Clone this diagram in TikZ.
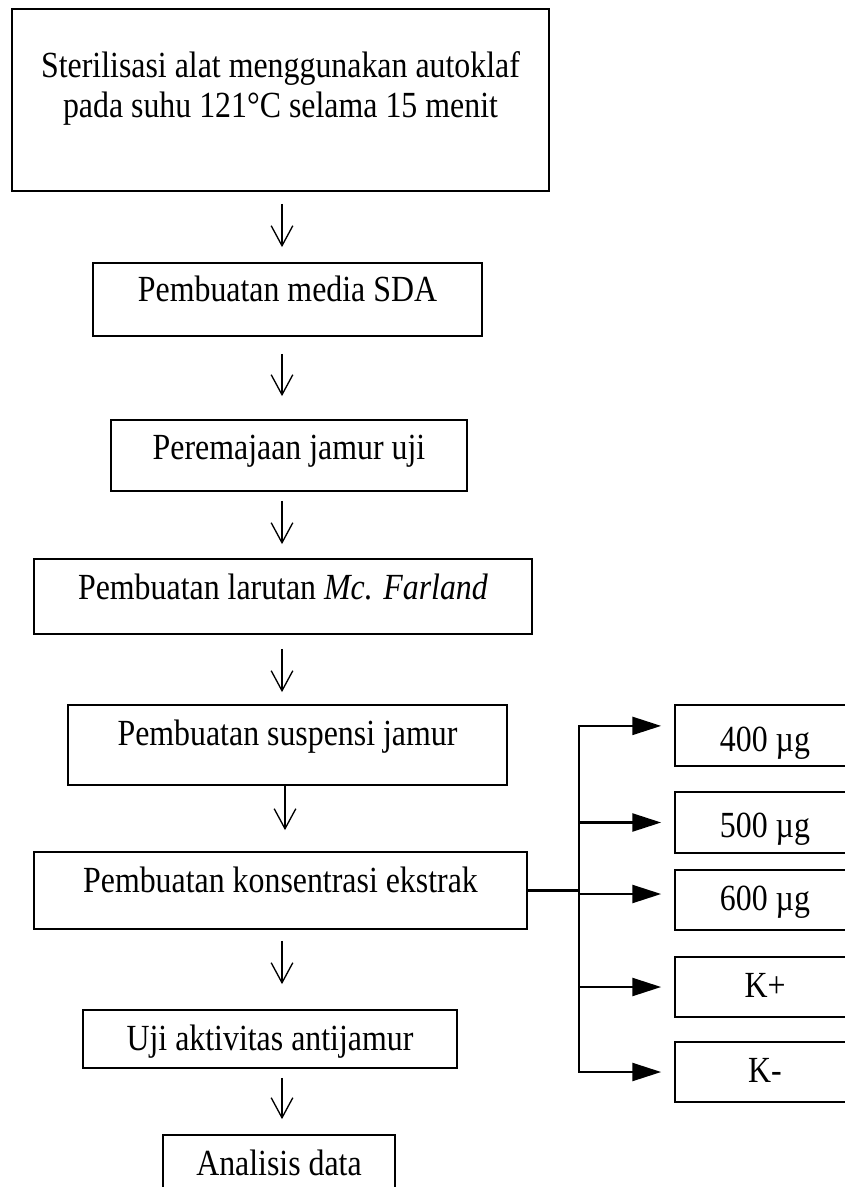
\documentclass[tikz,border=0pt]{standalone}
\usepackage{fontspec}
\setmainfont{Liberation Serif}[FakeStretch=0.865]
\usetikzlibrary{arrows.meta}

\tikzset{
  stepbox/.style={draw, rectangle, line width=1.2pt, inner sep=0pt, text height=1cm,
    font=\fontsize{26.2}{28.45}\selectfont},
  flow/.style={-{Straight Barb[length=0.5cm,width=0.54cm]}, line width=0.95pt},
  trunk/.style={line width=1.6pt, line cap=rect},
  branch/.style={trunk, -{Triangle[length=0.72cm,width=0.45cm]}, shorten >=0.325cm}
}

\begin{document}
\begin{tikzpicture}[x=0.025cm, y=-0.025cm]
\useasboundingbox (0,0) rectangle (845,1187);
\clip (0,0) rectangle (845,1187);
% main column
\node[stepbox, minimum width=13.425cm, text height=1.725cm, text depth=2.825cm] (steril) at (280.5,100)
  {\begin{tabular}[t]{@{}c@{}}Sterilisasi alat menggunakan autoklaf\\pada suhu 121°C selama 15 menit\end{tabular}};
\node[stepbox, minimum width=9.725cm, text height=0.975cm, text depth=0.85cm] (sda) at (287.5,299.5) {Pembuatan media SDA};
\node[stepbox, minimum width=8.9cm, text height=0.975cm, text depth=0.8cm] (remaja) at (289,455.5) {Peremajaan jamur uji};
\node[stepbox, minimum width=12.45cm, text depth=0.875cm] (farland) at (283,596.5) {Pembuatan larutan \textit{Mc. Farland}};
\node[stepbox, minimum width=10.975cm, text depth=1cm] (suspensi) at (287.5,745) {Pembuatan suspensi jamur};
\node[stepbox, minimum width=12.325cm, text depth=0.925cm] (konsen) at (280.5,890.5) {Pembuatan konsentrasi ekstrak};
\node[stepbox, minimum width=9.35cm, text depth=0.45cm] (uji) at (270,1039) {Uji aktivitas antijamur};
\node[stepbox, minimum width=5.8cm, text depth=0.625cm] (analisis) at (279,1167.5) {Analisis data};
% concentrations
\node[stepbox, minimum width=4.5cm, text height=1.15cm, text depth=0.375cm] (c400) at (765,735.5) {400 µg};
\node[stepbox, minimum width=4.5cm, text height=1.125cm, text depth=0.4cm] (c500) at (765,822.5) {500 µg};
\node[stepbox, minimum width=4.5cm, text depth=0.5cm] (c600) at (765,900) {600 µg};
\node[stepbox, minimum width=4.5cm, text depth=0.5cm] (ckplus) at (765,987) {K+};
\node[stepbox, minimum width=4.5cm, text depth=0.5cm] (ckmin) at (765,1072) {K-};

% down arrows
\coordinate (ax) at (282,0);
\coordinate (axs) at (285,0);
\draw[flow, shorten <=0.3cm, shorten >=0.375cm] (steril.south -| ax) -- (sda.north -| ax);
\draw[flow, shorten <=0.425cm, shorten >=0.575cm] (sda.south -| ax) -- (remaja.north -| ax);
\draw[flow, shorten <=0.225cm, shorten >=0.35cm] (remaja.south -| ax) -- (farland.north -| ax);
\draw[flow, shorten <=0.35cm, shorten >=0.3cm] (farland.south -| ax) -- (suspensi.north -| ax);
\draw[flow, shorten >=0.525cm] (suspensi.south -| axs) -- (konsen.north -| axs);
\draw[flow, shorten <=0.275cm, shorten >=0.625cm] (konsen.south -| ax) -- (uji.north -| ax);
\draw[flow, shorten <=0.225cm, shorten >=0.375cm] (uji.south -| ax) -- (analisis.north -| ax);

% branches to the concentrations
\coordinate (fork) at (579,894);
\draw[trunk] (konsen.east) -- (konsen.east -| fork);
\draw[trunk] ([yshift=0.24cm]c400.west -| fork) -- (ckmin.west -| fork);
\draw[branch] ([yshift=0.24cm]c400.west -| fork) -- ([yshift=0.24cm]c400.west);
\draw[branch] (c500.west -| fork) -- (c500.west);
\draw[branch] ([yshift=0.15cm]c600.west -| fork) -- ([yshift=0.15cm]c600.west);
\draw[branch] (ckplus.west -| fork) -- (ckplus.west);
\draw[branch] (ckmin.west -| fork) -- (ckmin.west);
\end{tikzpicture}
\end{document}
